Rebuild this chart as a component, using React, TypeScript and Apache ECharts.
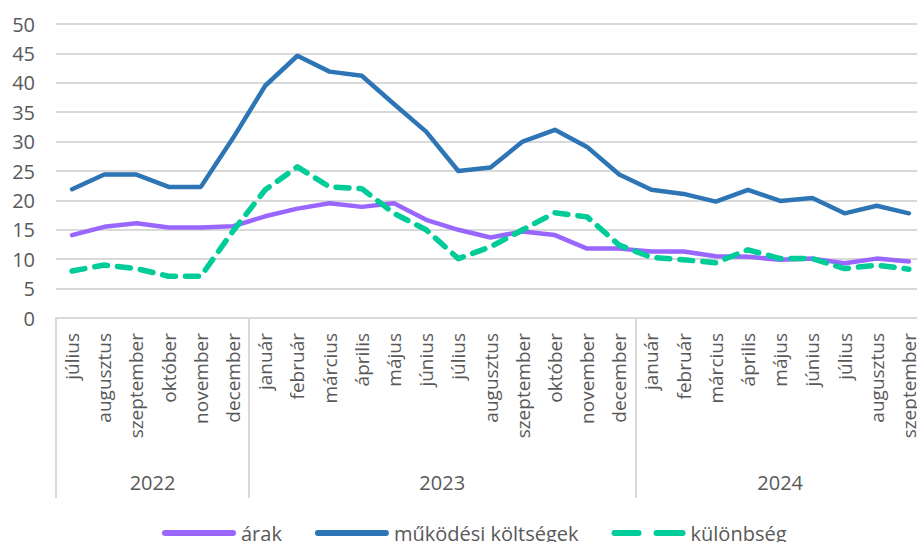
import React, { useEffect, useRef } from "react";
import * as echarts from "echarts";

const months = [
  "július", "augusztus", "szeptember", "október", "november", "december",
  "január", "február", "március", "április", "május", "június",
  "július", "augusztus", "szeptember", "október", "november", "december",
  "január", "február", "március", "április", "május", "június",
  "július", "augusztus", "szeptember",
];
const years = ["2022", "2023", "2024"];
const yearBounds = [0, 6, 18, 27];
const yearCenters = [3, 12, 22.5];

const arak = [
  14.1, 15.5, 16.1, 15.4, 15.4, 15.6,
  17.3, 18.6, 19.5, 18.9, 19.5, 16.7, 15.0, 13.7, 14.7, 14.1, 11.8, 11.8,
  11.3, 11.3, 10.5, 10.4, 9.9, 10.1, 9.3, 10.1, 9.6,
];
const koltsegek = [
  21.9, 24.4, 24.4, 22.3, 22.3, 30.6,
  39.5, 44.6, 41.9, 41.2, 36.4, 31.7, 25.0, 25.6, 30.0, 32.0, 29.1, 24.4,
  21.8, 21.1, 19.8, 21.8, 19.9, 20.4, 17.8, 19.1, 17.8,
];
const kulonbseg = [
  8.0, 9.0, 8.4, 7.1, 7.1, 14.8,
  21.8, 25.7, 22.3, 22.0, 17.8, 15.0, 10.1, 12.1, 15.0, 17.9, 17.2, 12.4,
  10.3, 9.9, 9.4, 11.6, 10.1, 10.1, 8.4, 9.0, 8.3,
];

const FONT = "Open Sans";
const GRAY = "#595959";
const GRID = "#d9d9d9";
const PURPLE = "#9966ff";
const BLUE = "#2e75b6";
const GREEN = "#00cc99";

const solidIcon = "path://M3,0H71A3,3 0 0 1 71,6H3A3,3 0 0 1 3,0Z";
const dashIcon =
  "path://M3,0H27A3,3 0 0 1 27,6H3A3,3 0 0 1 3,0Z M45,0H71A3,3 0 0 1 71,6H45A3,3 0 0 1 45,0Z";

const legendItem = (name: string, icon: string, color: string) => ({
  name,
  icon,
  itemStyle: { color, borderWidth: 0, borderType: "solid", opacity: 1 },
});

export default function App() {
  const ref = useRef<HTMLDivElement>(null);
  useEffect(() => {
    if (!ref.current) return;
    const chart = echarts.init(ref.current, null, { renderer: "svg" });
    chart.setOption({
      animation: false,
      backgroundColor: "#ffffff",
      textStyle: { fontFamily: FONT },
      grid: { left: 56, top: 24, width: 869, height: 294, containLabel: false },
      legend: {
        left: 157,
        top: 518,
        itemWidth: 74,
        itemHeight: 6,
        itemGap: 33,
        symbolKeepAspect: false,
        textStyle: { fontSize: 20, color: GRAY, fontFamily: FONT },
        data: [
          legendItem("árak", solidIcon, PURPLE),
          legendItem("működési költségek", solidIcon, BLUE),
          legendItem("különbség", dashIcon, GREEN),
        ],
      },
      xAxis: [
        {
          type: "category",
          data: months,
          boundaryGap: true,
          axisLine: { show: true, lineStyle: { color: GRID, width: 2 } },
          axisTick: { show: false },
          axisLabel: {
            interval: 0,
            rotate: 90,
            margin: 15,
            fontSize: 19,
            color: GRAY,
            fontFamily: FONT,
          },
        },
        {
          type: "value",
          min: 0,
          max: 27,
          position: "bottom",
          splitLine: { show: false },
          axisLine: { show: false },
          axisTick: {
            show: true,
            customValues: yearBounds,
            length: 180,
            lineStyle: { color: GRID, width: 2 },
          },
          axisLabel: {
            show: true,
            customValues: yearCenters,
            margin: 154,
            fontSize: 20,
            color: GRAY,
            fontFamily: FONT,
            formatter: (v: number) => years[yearCenters.indexOf(v)] ?? "",
          },
        },
      ],
      yAxis: {
        type: "value",
        min: 0,
        max: 50,
        interval: 5,
        axisLine: { show: false },
        axisTick: { show: false },
        splitLine: { lineStyle: { color: GRID, width: 2 } },
        axisLabel: { fontSize: 20, color: GRAY, margin: 21, fontFamily: FONT },
      },
      series: [
        {
          name: "árak",
          type: "line",
          data: arak,
          symbol: "none",
          lineStyle: { color: PURPLE, width: 4.5, cap: "round", join: "round" },
          itemStyle: { color: PURPLE },
          z: 2,
        },
        {
          name: "működési költségek",
          type: "line",
          data: koltsegek,
          symbol: "none",
          lineStyle: { color: BLUE, width: 4.5, cap: "round", join: "round" },
          itemStyle: { color: BLUE },
          z: 3,
        },
        {
          name: "különbség",
          type: "line",
          data: kulonbseg,
          symbol: "none",
          lineStyle: {
            color: GREEN,
            width: 5.5,
            type: [13, 10],
            cap: "round",
            join: "round",
          },
          itemStyle: { color: GREEN },
          z: 4,
        },
      ],
    });
    return () => chart.dispose();
  }, []);
  return (
    <div
      style={{
        position: "fixed",
        left: 0,
        top: 0,
        width: 917,
        height: 542,
        overflow: "hidden",
        background: "#fff",
      }}
    >
      <div ref={ref} style={{ width: 960, height: 542 }} />
    </div>
  );
}
